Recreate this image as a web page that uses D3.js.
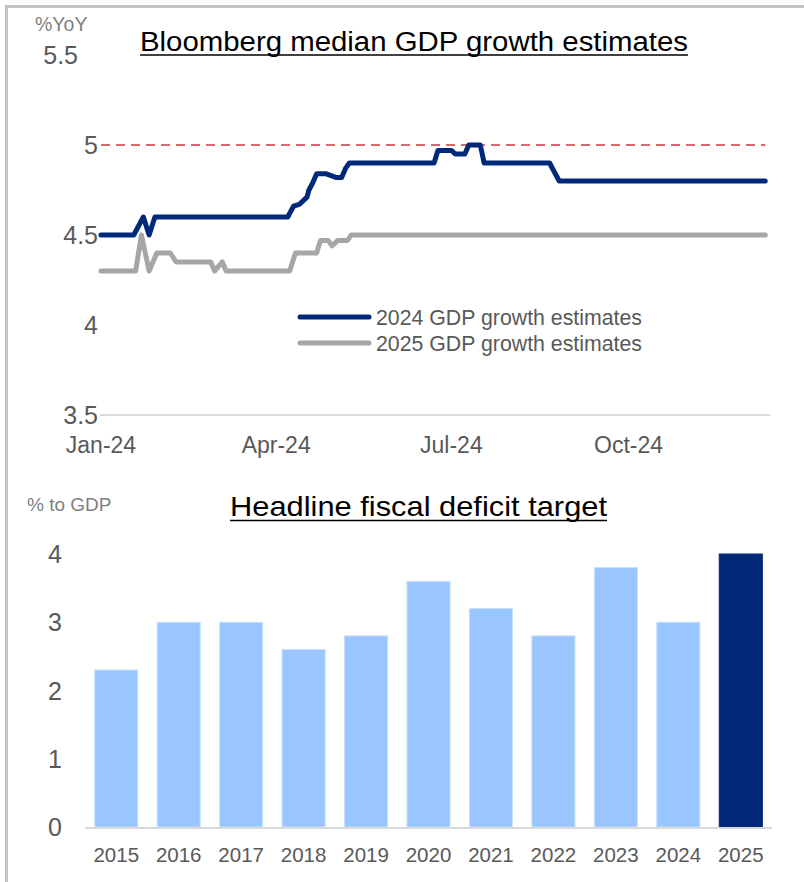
<!DOCTYPE html>
<html>
<head>
<meta charset="utf-8">
<script src="https://cdn.jsdelivr.net/npm/d3@7"></script>
<style>
  html, body { margin: 0; padding: 0; background: #fff; }
  svg { display: block; }
  text { font-family: "Liberation Sans", Arial, sans-serif; }
</style>
</head>
<body>
<svg id="chart" width="804" height="882"></svg>
<script>
// ---------- Top chart data ----------
const gdp2024Dates = ["2024-01-01","2024-01-18","2024-01-23","2024-01-26","2024-01-29","2024-04-07","2024-04-10","2024-04-13","2024-04-17","2024-04-18","2024-04-20","2024-04-22","2024-04-27","2024-05-02","2024-05-05","2024-05-07","2024-05-09","2024-06-22","2024-06-24","2024-07-01","2024-07-03","2024-07-08","2024-07-10","2024-07-16","2024-07-18","2024-08-21","2024-08-26","2024-12-11"];
const gdp2024Values = [4.5,4.5,4.6,4.5,4.6,4.6,4.66,4.67,4.71,4.75,4.79,4.84,4.84,4.82,4.82,4.87,4.9,4.9,4.97,4.97,4.95,4.95,5.0,5.0,4.9,4.9,4.8,4.8];

const gdp2025Dates = ["2024-01-01","2024-01-19","2024-01-22","2024-01-26","2024-01-30","2024-02-06","2024-02-09","2024-02-27","2024-02-29","2024-03-04","2024-03-06","2024-04-08","2024-04-11","2024-04-22","2024-04-24","2024-04-28","2024-04-30","2024-05-03","2024-05-08","2024-05-10","2024-12-11"];
const gdp2025Values = [4.3,4.3,4.5,4.3,4.4,4.4,4.35,4.35,4.3,4.35,4.3,4.3,4.4,4.4,4.47,4.47,4.44,4.47,4.47,4.5,4.5];

const seriesNames = ["2024 GDP growth estimates", "2025 GDP growth estimates"];
const topYTicks = [3.5, 4, 4.5, 5, 5.5];
const topXTicks = ["2024-01-01","2024-04-01","2024-07-01","2024-10-01"];
const targetLine = 5;

// ---------- Bottom chart data ----------
const years = ["2015","2016","2017","2018","2019","2020","2021","2022","2023","2024","2025"];
const deficitTargets = [2.3, 3.0, 3.0, 2.6, 2.8, 3.6, 3.2, 2.8, 3.8, 3.0, 4.0];
const bottomYTicks = [0, 1, 2, 3, 4];

// ---------- Drawing ----------
const svg = d3.select("#chart");
const parse = d3.timeParse("%Y-%m-%d");
const tickGray = "#595959";
const navy = "#00297a";
const gray = "#a6a6a6";

// frame
svg.append("line").attr("x1", 5).attr("x2", 804).attr("y1", 6.5).attr("y2", 6.5)
  .attr("stroke", "#c4c4c4").attr("stroke-width", 3);
svg.append("line").attr("x1", 6.5).attr("x2", 6.5).attr("y1", 5).attr("y2", 882)
  .attr("stroke", "#c4c4c4").attr("stroke-width", 3);

// ===== Top chart =====
const xT = d3.scaleTime().domain([parse("2024-01-01"), parse("2024-12-14")]).range([101, 771]);
const yT = d3.scaleLinear().domain([3.5, 5.5]).range([415, 55]);

// axis baseline
svg.append("line").attr("x1", 100).attr("x2", 770).attr("y1", yT(3.5)).attr("y2", yT(3.5))
  .attr("stroke", "#d9d9d9").attr("stroke-width", 2);

// y tick labels (top label sits further left, as in the source)
svg.append("g").selectAll("text").data(topYTicks).join("text")
  .attr("x", d => d === 5.5 ? 78 : 98).attr("y", d => yT(d)).attr("dy", "0.36em")
  .attr("text-anchor", "end").attr("font-size", 25).attr("fill", tickGray)
  .text(d => d);

// x tick labels
const fmt = d3.timeFormat("%b-%y");
svg.append("g").selectAll("text").data(topXTicks).join("text")
  .attr("x", d => xT(parse(d))).attr("y", 453)
  .attr("text-anchor", "middle").attr("font-size", 23).attr("fill", tickGray)
  .text(d => fmt(parse(d)));

// unit label
svg.append("text").attr("x", 35).attr("y", 31).attr("font-size", 19.5).attr("fill", "#7f7f7f").text("%YoY");

// title
svg.append("text").attr("x", 140).attr("y", 51).attr("font-size", 27).attr("fill", "#000")
  .attr("textLength", 548).attr("lengthAdjust", "spacingAndGlyphs")
  .text("Bloomberg median GDP growth estimates");
svg.append("line").attr("x1", 140).attr("x2", 688).attr("y1", 55).attr("y2", 55)
  .attr("stroke", "#000").attr("stroke-width", 1.5);

// target dashed line
svg.append("line").attr("x1", xT(parse("2024-01-01"))).attr("x2", xT(parse("2024-12-11")))
  .attr("y1", yT(targetLine)).attr("y2", yT(targetLine))
  .attr("stroke", "#c8393b").attr("stroke-width", 1.5).attr("stroke-dasharray", "9,6");

const line = d3.line().x(d => xT(d[0])).y(d => yT(d[1]));
const s24 = gdp2024Dates.map((d, i) => [parse(d), gdp2024Values[i]]);
const s25 = gdp2025Dates.map((d, i) => [parse(d), gdp2025Values[i]]);

svg.append("path").datum(s24).attr("d", line).attr("fill", "none")
  .attr("stroke", navy).attr("stroke-width", 5).attr("stroke-linejoin", "round").attr("stroke-linecap", "round");
svg.append("path").datum(s25).attr("d", line).attr("fill", "none")
  .attr("stroke", gray).attr("stroke-width", 5).attr("stroke-linejoin", "round").attr("stroke-linecap", "round");

// legend
const legend = svg.append("g");
[[navy, 317], [gray, 343]].forEach(([c, y], i) => {
  legend.append("line").attr("x1", 300).attr("x2", 369).attr("y1", y).attr("y2", y)
    .attr("stroke", c).attr("stroke-width", 5).attr("stroke-linecap", "round");
  legend.append("text").attr("x", 376).attr("y", y).attr("dy", "0.36em")
    .attr("font-size", 21.3).attr("fill", tickGray).text(seriesNames[i]);
});

// ===== Bottom chart =====
const xB = d3.scaleBand().domain(years).range([85, 772]).paddingInner(0.31).paddingOuter(0.155);
const yB = d3.scaleLinear().domain([0, 4]).range([827, 554]);

svg.append("text").attr("x", 27).attr("y", 511).attr("font-size", 19).attr("fill", "#7f7f7f").text("% to GDP");
svg.append("text").attr("x", 230).attr("y", 516).attr("font-size", 28).attr("fill", "#000")
  .attr("textLength", 377).attr("lengthAdjust", "spacingAndGlyphs")
  .text("Headline fiscal deficit target");
svg.append("line").attr("x1", 230).attr("x2", 607).attr("y1", 520.5).attr("y2", 520.5)
  .attr("stroke", "#000").attr("stroke-width", 1.5);

svg.append("g").selectAll("rect").data(years).join("rect")
  .attr("x", d => xB(d)).attr("width", xB.bandwidth())
  .attr("y", (d, i) => yB(deficitTargets[i]))
  .attr("height", (d, i) => yB(0) - yB(deficitTargets[i]))
  .attr("fill", (d, i) => i === years.length - 1 ? "#002877" : "#99c6ff")
  .attr("stroke", (d, i) => i === years.length - 1 ? "#002877" : "#c9e1ff")
  .attr("stroke-width", 1);

svg.append("line").attr("x1", 85).attr("x2", 772).attr("y1", yB(0) + 1).attr("y2", yB(0) + 1)
  .attr("stroke", "#d9d9d9").attr("stroke-width", 2);

svg.append("g").selectAll("text").data(bottomYTicks).join("text")
  .attr("x", 62).attr("y", d => yB(d)).attr("dy", "0.36em")
  .attr("text-anchor", "end").attr("font-size", 25).attr("fill", tickGray)
  .text(d => d);

svg.append("g").selectAll("text").data(years).join("text")
  .attr("x", d => xB(d) + xB.bandwidth() / 2).attr("y", 862)
  .attr("text-anchor", "middle").attr("font-size", 20.5).attr("fill", tickGray)
  .text(d => d);
</script>
</body>
</html>
